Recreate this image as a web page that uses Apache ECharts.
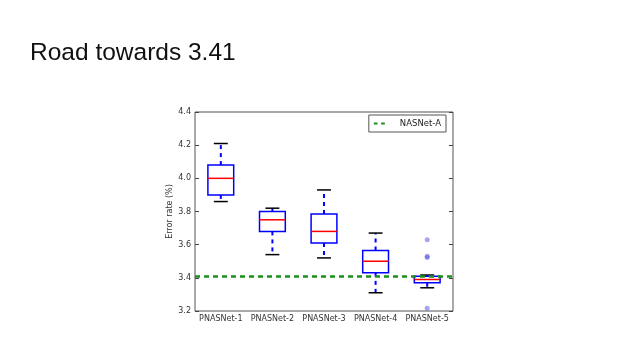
<!DOCTYPE html>
<html><head><meta charset="utf-8">
<script src="https://cdn.jsdelivr.net/npm/echarts@6/dist/echarts.min.js"></script>
<style>html,body{margin:0;padding:0;background:#fff}#c{width:640px;height:360px}</style>
</head><body><div id="c"></div>
<script>
const categories = ['PNASNet-1','PNASNet-2','PNASNet-3','PNASNet-4','PNASNet-5'];
// [min whisker, q1, median, q3, max whisker]
const boxStats = [
  [3.86, 3.90, 4.00, 4.08, 4.21],
  [3.54, 3.68, 3.75, 3.80, 3.82],
  [3.52, 3.61, 3.68, 3.785, 3.93],
  [3.31, 3.43, 3.50, 3.565, 3.67],
  [3.34, 3.37, 3.39, 3.41, 3.417]
];
const outliers = [[4, 3.63], [4, 3.53], [4, 3.522], [4, 3.216]];
const nasnetA = 3.41;
const yTicks = {min: 3.2, max: 4.4, interval: 0.2};

const chart = echarts.init(document.getElementById('c'));
const font = 'DejaVu Sans';
const boxData = boxStats.map((s, i) => [i].concat(s));

function renderBox(params, api) {
  const x = api.value(0);
  const pMin = api.coord([x, api.value(1)]);
  const pQ1 = api.coord([x, api.value(2)]);
  const pMed = api.coord([x, api.value(3)]);
  const pQ3 = api.coord([x, api.value(4)]);
  const pMax = api.coord([x, api.value(5)]);
  const band = api.size([1, 0])[0];
  const bw = band * 0.5;
  const cw = band * 0.27;
  const cx = pMed[0];
  const blue = '#0000ff';
  return {
    type: 'group',
    children: [
      {type: 'line', shape: {x1: cx, y1: pQ3[1], x2: cx, y2: pMax[1]}, style: {stroke: blue, lineWidth: 2, lineDash: [4, 4]}},
      {type: 'line', shape: {x1: cx, y1: pQ1[1], x2: cx, y2: pMin[1]}, style: {stroke: blue, lineWidth: 2, lineDash: [4, 4]}},
      {type: 'line', shape: {x1: cx - cw/2, y1: pMax[1], x2: cx + cw/2, y2: pMax[1]}, style: {stroke: '#000', lineWidth: 1.5}},
      {type: 'line', shape: {x1: cx - cw/2, y1: pMin[1], x2: cx + cw/2, y2: pMin[1]}, style: {stroke: '#000', lineWidth: 1.5}},
      {type: 'rect', shape: {x: cx - bw/2, y: pQ3[1], width: bw, height: pQ1[1] - pQ3[1]}, style: {stroke: blue, fill: 'none', lineWidth: 1.5}},
      {type: 'line', shape: {x1: cx - bw/2, y1: pMed[1], x2: cx + bw/2, y2: pMed[1]}, style: {stroke: '#ff0000', lineWidth: 1.5}}
    ]
  };
}

const axisLabelStyle = {fontFamily: font, fontSize: 8, color: '#333'};
chart.setOption({
  animation: false,
  backgroundColor: '#fff',
  title: {
    text: 'Road towards 3.41', left: 25, top: 36,
    textStyle: {fontFamily: 'Liberation Sans', fontSize: 24.5, fontWeight: 'normal', color: '#111'}
  },
  legend: {
    right: 194, top: 115,
    data: [{name: 'NASNet-A', icon: 'path://M0,0h4v2h-4z M8,0h4v2h-4z'}],
    itemWidth: 11, itemHeight: 2.5, itemGap: 4,
    padding: [4, 5, 4, 5],
    borderColor: '#555', borderWidth: 1, borderRadius: 0, backgroundColor: '#fff',
    textStyle: {fontFamily: font, fontSize: 8.5, color: '#222', padding: [0, 0, 0, 10]}
  },
  grid: {left: 195, right: 187, top: 112, bottom: 49, show: true, borderColor: '#555', borderWidth: 1, backgroundColor: 'transparent'},
  xAxis: [
    {type: 'category', data: categories, boundaryGap: true,
     axisLine: {show: false}, axisTick: {inside: true, alignWithLabel: true, length: 4, lineStyle: {color: '#444'}},
     axisLabel: Object.assign({margin: 4, interval: 0}, axisLabelStyle), splitLine: {show: false}},
    {type: 'category', data: categories, position: 'top', boundaryGap: true,
     axisLine: {show: false}, axisTick: {inside: true, alignWithLabel: true, length: 4, lineStyle: {color: '#444'}},
     axisLabel: {show: false}}
  ],
  yAxis: [
    {type: 'value', min: yTicks.min, max: yTicks.max, interval: yTicks.interval,
     name: 'Error rate (%)', nameLocation: 'middle', nameGap: 18, nameRotate: 90,
     nameTextStyle: {fontFamily: font, fontSize: 8, color: '#333'},
     axisLine: {show: false}, axisTick: {show: true, inside: true, length: 4, lineStyle: {color: '#444'}},
     axisLabel: Object.assign({margin: 4, formatter: v => v.toFixed(1)}, axisLabelStyle),
     splitLine: {show: false}},
    {type: 'value', min: yTicks.min, max: yTicks.max, interval: yTicks.interval, position: 'right',
     axisLine: {show: false}, axisTick: {show: true, inside: true, length: 4, lineStyle: {color: '#444'}},
     axisLabel: {show: false}, splitLine: {show: false}}
  ],
  series: [
    {type: 'custom', name: 'boxes', renderItem: renderBox, data: boxData,
     encode: {x: 0, y: [1, 2, 3, 4, 5]}, z: 3},
    {type: 'scatter', name: 'outliers', data: outliers, symbol: 'circle', symbolSize: 5,
     itemStyle: {color: 'rgba(70,70,220,0.6)'}, z: 4},
    {type: 'line', name: 'NASNet-A', data: [], showSymbol: false,
     itemStyle: {color: '#1a8f1a'}, lineStyle: {color: '#1a8f1a', type: 'dashed'},
     markLine: {silent: true, symbol: ['none', 'none'], label: {show: false},
       lineStyle: {color: '#1a8f1a', type: [5, 4], width: 2.5},
       data: [{yAxis: nasnetA}]}, z: 2}
  ]
});
</script></body></html>
